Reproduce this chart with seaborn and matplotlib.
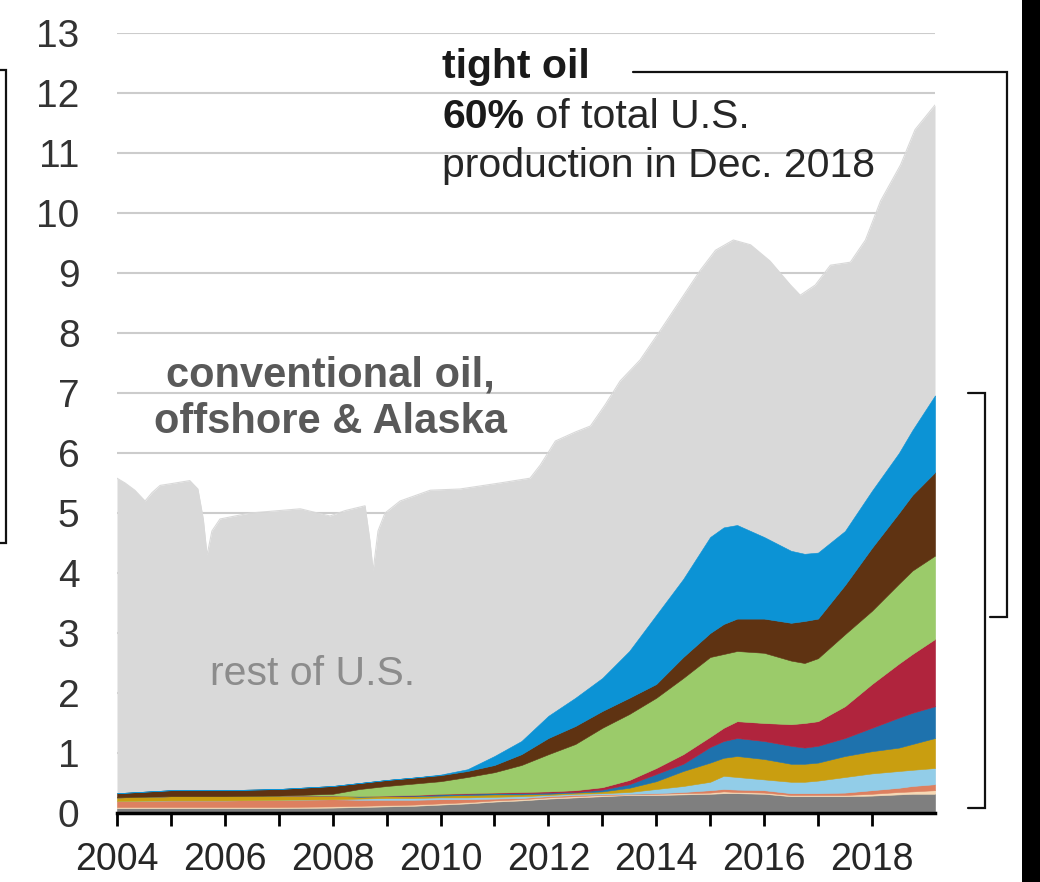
import matplotlib
matplotlib.use("Agg")
import matplotlib.pyplot as plt
import seaborn as sns
import numpy as np
import pandas as pd
from matplotlib.lines import Line2D
from matplotlib.patches import Rectangle

# ---------------- data (million barrels per day) ----------------
years = [2004.0, 2005.0, 2006.0, 2007.0, 2008.0, 2008.5, 2009.0, 2009.5, 2010.0, 2010.5,
         2011.0, 2011.5, 2012.0, 2012.5, 2013.0, 2013.5, 2014.0, 2014.5, 2015.0, 2015.25,
         2015.5, 2016.0, 2016.5, 2016.75, 2017.0, 2017.5, 2018.0, 2018.5, 2018.75, 2019.17]

gray_bottom = [.08, .08, .08, .08, .09, .10, .11, .12, .14, .16, .19, .21, .24, .26, .28,
               .30, .30, .31, .32, .33, .33, .32, .28, .28, .28, .28, .29, .31, .32, .32]
peach = [.02, .02, .02, .02, .02, .02, .02, .02, .02, .02, .02, .02, .02, .02, .02,
         .01, .02, .02, .02, .03, .02, .02, .02, .02, .02, .02, .03, .04, .04, .06]
salmon = [.10, .11, .11, .12, .12, .10, .09, .08, .07, .05, .03, .02, .02, .02, .01,
          .01, .01, .02, .04, .04, .04, .04, .03, .03, .03, .04, .06, .07, .09, .10]
light_blue = [0, 0, 0, 0, 0, .02, .03, .03, .03, .03, .03, .03, .02, .02, .02,
              .03, .07, .10, .14, .22, .21, .18, .19, .19, .21, .26, .28, .28, .27, .27]
gold = [.06, .07, .07, .07, .06, .03, .03, .03, .03, .04, .04, .03, .02, .02, .03,
        .07, .13, .25, .32, .30, .35, .34, .30, .30, .30, .35, .37, .39, .43, .50]
mid_blue = [0, 0, 0, 0, 0, .01, .01, .01, .02, .02, .02, .02, .02, .01, .03,
            .06, .12, .12, .26, .28, .30, .30, .30, .27, .28, .30, .39, .50, .52, .53]
red = [0, 0, 0, 0, 0, 0, 0, .01, .01, .01, .01, .02, .02, .03, .04,
       .07, .10, .16, .17, .22, .28, .30, .36, .41, .41, .53, .73, .90, .98, 1.12]
green = [0, 0, 0, 0, .03, .12, .16, .19, .21, .27, .34, .45, .62, .77, .99,
         1.10, 1.17, 1.27, 1.33, 1.23, 1.17, 1.17, 1.06, 1.00, 1.05, 1.20, 1.22, 1.33, 1.39, 1.39]
brown = [.07, .10, .10, .11, .13, .10, .10, .10, .10, .10, .12, .18, .27, .30, .28,
         .27, .23, .35, .40, .50, .54, .57, .63, .70, .66, .82, 1.05, 1.18, 1.26, 1.39]
blue = [0, 0, 0, 0, 0, 0, 0, 0, .01, .03, .15, .22, .37, .47, .55,
        .78, 1.15, 1.30, 1.60, 1.61, 1.56, 1.36, 1.20, 1.12, 1.10, .90, .95, 1.00, 1.08, 1.28]

total_years = [2004.0, 2004.15, 2004.33, 2004.52, 2004.65, 2004.8, 2005.08, 2005.35, 2005.5, 2005.6,
               2005.67, 2005.76, 2005.91, 2006.47, 2007.4, 2007.95, 2008.23, 2008.6, 2008.69, 2008.75,
               2008.84, 2008.97, 2009.25, 2009.81, 2010.36, 2011.1, 2011.66, 2011.85, 2012.13, 2012.5,
               2012.78, 2013.05, 2013.33, 2013.7, 2014.08, 2014.45, 2014.82, 2015.1, 2015.43, 2015.75,
               2016.11, 2016.49, 2016.67, 2016.95, 2017.23, 2017.6, 2017.88, 2018.16, 2018.53, 2018.8,
               2019.17]
total_values = [5.58, 5.5, 5.38, 5.2, 5.34, 5.46, 5.5, 5.54, 5.4, 4.9,
                4.3, 4.7, 4.9, 5.0, 5.07, 4.95, 5.04, 5.12, 4.54, 4.04,
                4.7, 5.0, 5.2, 5.38, 5.4, 5.5, 5.58, 5.8, 6.2, 6.35,
                6.45, 6.8, 7.2, 7.55, 8.05, 8.55, 9.05, 9.38, 9.55, 9.47,
                9.2, 8.8, 8.63, 8.8, 9.13, 9.18, 9.55, 10.2, 10.8, 11.39,
                11.8]

y_ticks = list(range(0, 14))
x_ticks = list(range(2004, 2019))
x_tick_labels = [str(y) if y % 2 == 0 else "" for y in x_ticks]

layer_colors = ["#7f7f7f", "#f7d9b5", "#dd8060", "#92cde8", "#c99e10",
                "#1e72ad", "#b0243d", "#9bcb6a", "#5f3312", "#0c93d5"]
rest_color = "#d9d9d9"

# ---------------- style ----------------
sns.set_theme(style="white")
plt.rcParams['font.family'] = ['Liberation Sans', 'DejaVu Sans']

W, H = 1040, 882
fig = plt.figure(figsize=(W / 100, H / 100), dpi=100)


def fx(px):
    return px / W


def fy(py):
    return 1 - py / H


ax = fig.add_axes([fx(117), fy(813), fx(935) - fx(117), fy(33) - fy(813)])

# rest of U.S. (total production) as the background area
df_total = pd.DataFrame({"year": total_years, "total": total_values})
ax.fill_between(df_total["year"], 0, df_total["total"], color=rest_color, lw=0, zorder=1)
sns.lineplot(data=df_total, x="year", y="total", ax=ax, color=rest_color, lw=0.8, zorder=1)

# tight oil plays stacked
polys = ax.stackplot(years, gray_bottom, peach, salmon, light_blue, gold, mid_blue,
                     red, green, brown, blue, colors=layer_colors, zorder=2)
for p, c in zip(polys, layer_colors):
    p.set_edgecolor(c)
    p.set_linewidth(0.4)

ax.set_xlim(2004, 2019.17)
ax.set_ylim(0, 13)
ax.set_xlabel("")
ax.set_ylabel("")
ax.yaxis.grid(True, color="#cccccc", lw=1.5)
ax.xaxis.grid(False)
ax.set_axisbelow(True)

ax.set_yticks(y_ticks)
ax.set_yticklabels([str(v) for v in y_ticks])
ax.set_xticks(x_ticks)
ax.set_xticklabels(x_tick_labels)
ax.tick_params(axis="x", bottom=True, length=9, width=2, color="black", pad=12,
               labelsize=27, labelcolor="#262626")
ax.tick_params(axis="y", left=False, length=0, pad=27, labelsize=28, labelcolor="#333333")

for s in ["left", "right", "top"]:
    ax.spines[s].set_visible(False)
ax.spines["bottom"].set_color("black")
ax.spines["bottom"].set_linewidth(2.5)
ax.spines["bottom"].set_zorder(5)

# ---------------- annotations ----------------
FS = 29.5
fig.text(fx(442), fy(78), "tight oil", fontsize=FS, weight="bold", color="#1a1a1a", va="baseline")
t60 = fig.text(fx(442), fy(128), "60%", fontsize=FS, weight="bold", color="#1a1a1a", va="baseline")
fig.canvas.draw()
bb = t60.get_window_extent()
fig.text(bb.x1 / fig.bbox.width, fy(128), " of total U.S.", fontsize=FS, color="#262626", va="baseline")
fig.text(fx(442), fy(177), "production in Dec. 2018", fontsize=FS, color="#262626", va="baseline")

fig.text(fx(330), fy(387), "conventional oil,", fontsize=30, weight="bold", color="#595959",
         ha="center", va="baseline")
fig.text(fx(330), fy(433), "offshore & Alaska", fontsize=30, weight="bold", color="#595959",
         ha="center", va="baseline")
ax.text(0, 0, "", transform=ax.transAxes)
fig.text(fx(210), fy(685), "rest of U.S.", fontsize=FS, color="#8c8c8c", va="baseline", zorder=10)


# ---------------- brackets ----------------
def poly(pts, lw=1.6):
    xs = [fx(p[0]) for p in pts]
    ys = [fy(p[1]) for p in pts]
    fig.add_artist(Line2D(xs, ys, color="#111111", lw=lw, transform=fig.transFigure,
                          solid_joinstyle="miter"))


poly([(633, 72), (1007, 72), (1007, 617), (990, 617)])
poly([(968, 393), (985, 393), (985, 808), (968, 808)])
poly([(0, 70), (6, 70), (6, 543), (0, 543)])

fig.add_artist(Rectangle((fx(1022), 0), 1 - fx(1022), 1, transform=fig.transFigure,
                         color="black", lw=0))

fig.savefig("out.png", dpi=100)
